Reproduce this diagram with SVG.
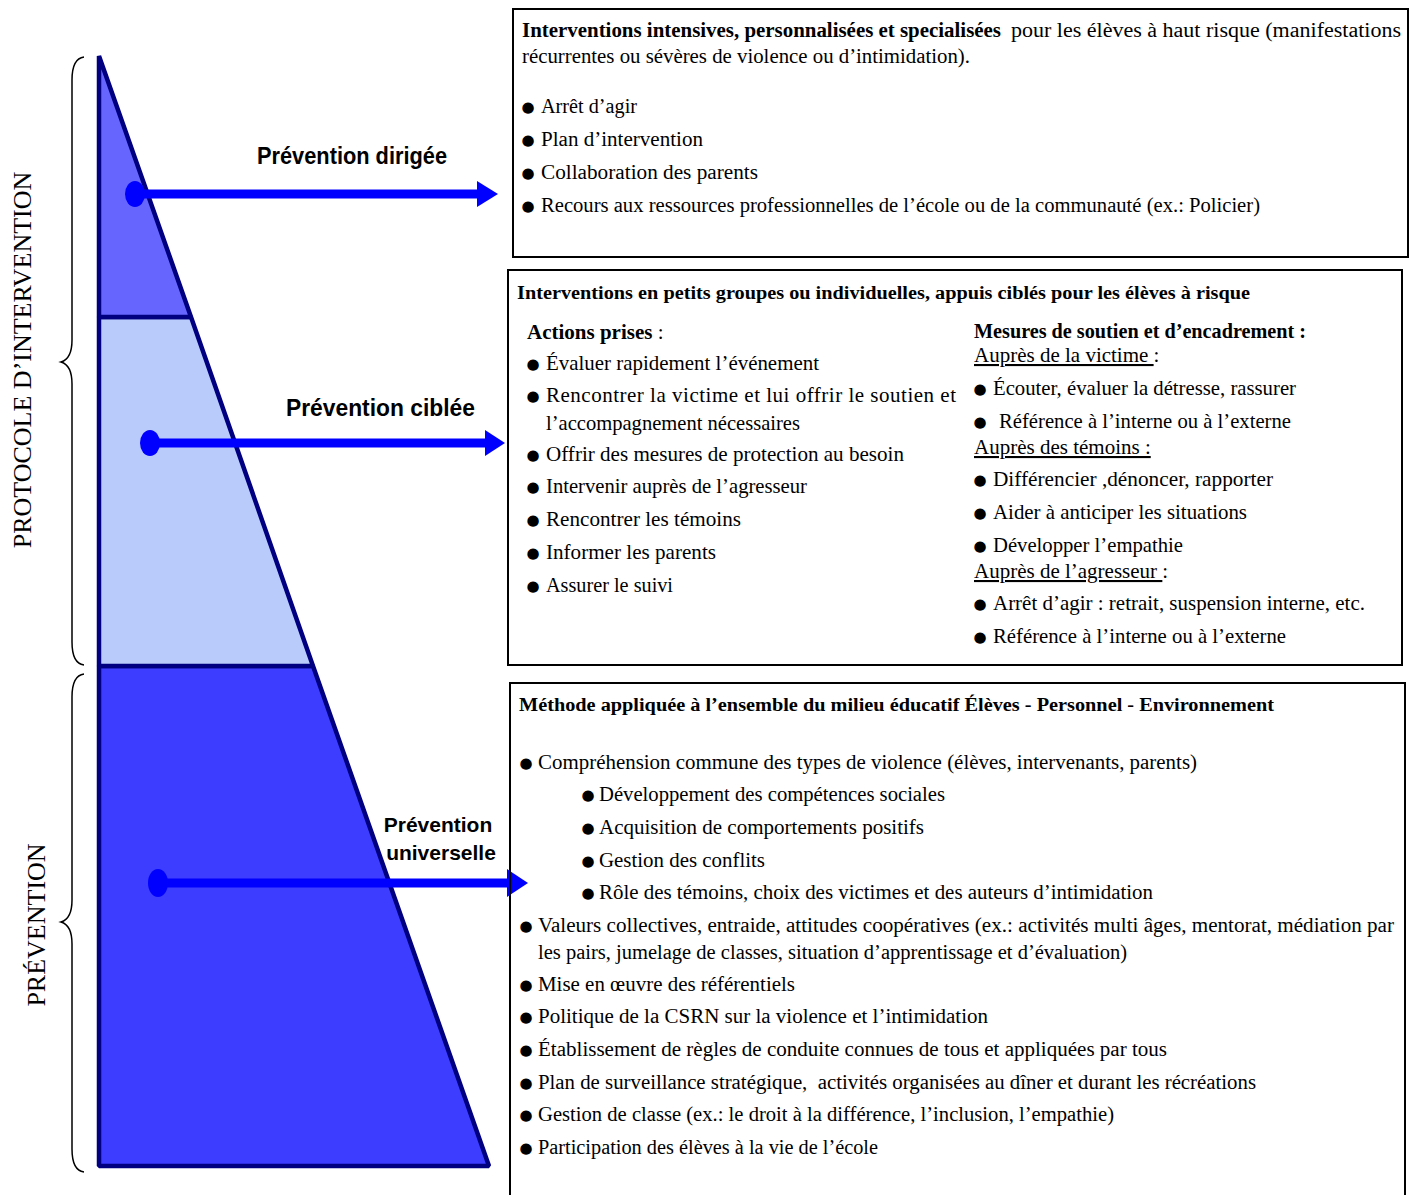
<svg xmlns="http://www.w3.org/2000/svg" width="1412" height="1195" viewBox="0 0 1412 1195">
<style>
.t{font-family:"Liberation Serif","Times New Roman",serif;font-size:20px;fill:#000}
.t2{font-family:"Liberation Serif","Times New Roman",serif;font-size:21px;fill:#000}
.b{font-weight:bold}
.h{font-family:"Liberation Serif","Times New Roman",serif;font-size:18px;font-weight:bold;fill:#000}
.bu{font-family:"DejaVu Sans",sans-serif;font-size:15px;fill:#000;text-anchor:middle}
.lab{font-family:"Liberation Sans",Arial,sans-serif;font-weight:bold;fill:#000;text-anchor:middle}
.side{font-family:"Liberation Serif","Times New Roman",serif;font-size:26px;fill:#000;text-anchor:middle}
.brace{fill:none;stroke:#000;stroke-width:1.5}
.lvl{stroke:#000080;stroke-width:4.5;stroke-linejoin:bevel}
.box{fill:none;stroke:#000;stroke-width:2}
.arr{stroke:#0000FF;stroke-width:9;fill:none}
.ah{fill:#0000FF}
</style>

<g id="braces">
<path class="brace" d="M84,57 C76,58 72,66 72,80 L72,340 C72,354 68,360 61,362 C68,364 72,370 72,384 L72,642 C72,656 76,664 84,665"/>
<path class="brace" d="M84,674 C76,675 72,683 72,697 L72,900 C72,914 68,920 61,922 C68,924 72,930 72,944 L72,1149 C72,1163 76,1171 84,1172"/>
<text class="side" transform="translate(31,360) rotate(-90)">PROTOCOLE D’INTERVENTION</text>
<text class="side" transform="translate(45,925) rotate(-90)">PRÉVENTION</text>
</g>

<g id="pyramid">
<g id="level-universelle"><polygon class="lvl" fill="#3D3DFF" stroke-width="3.5" points="99,666 313,666 489,1166 99,1166"/></g>
<g id="level-ciblee"><polygon class="lvl" fill="#B9CBFB" points="99,317 191,317 313,666 99,666"/></g>
<g id="level-dirigee"><polygon class="lvl" fill="#6666FF" points="99,56 191,317 99,317"/></g>
</g>

<g id="labels">
<text class="lab" x="352" y="164" font-size="23" textLength="190" lengthAdjust="spacingAndGlyphs">Prévention dirigée</text>
<text class="lab" x="380.5" y="416" font-size="23" textLength="189" lengthAdjust="spacingAndGlyphs">Prévention ciblée</text>
<text class="lab" x="438" y="832" font-size="21">Prévention</text>
<text class="lab" x="441" y="860" font-size="21">universelle</text>
</g>

<g id="connectors">
<g id="arrow-dirigee">
<ellipse class="ah" cx="135" cy="194" rx="10" ry="13"/>
<line class="arr" x1="135" y1="194" x2="479" y2="194"/>
<polygon class="ah" points="477,181 498,194 477,207"/>
</g>
<g id="arrow-ciblee">
<ellipse class="ah" cx="150" cy="443" rx="10" ry="13"/>
<line class="arr" x1="150" y1="443" x2="487" y2="443"/>
<polygon class="ah" points="485,430 505,443 485,456"/>
</g>
<g id="arrow-universelle">
<ellipse class="ah" cx="158" cy="883" rx="10" ry="14"/>
<line class="arr" x1="158" y1="883" x2="509" y2="883"/>
<polygon class="ah" points="507,869 528,883 507,897"/>
</g>
</g>

<g id="box-dirigee">
<rect class="box" x="513" y="9" width="895" height="248"/>
<text class="t b" x="522" y="37" textLength="479" lengthAdjust="spacingAndGlyphs">Interventions intensives, personnalisées et specialisées</text>
<text class="t" x="1011" y="37" textLength="390" lengthAdjust="spacingAndGlyphs">pour les élèves à haut risque (manifestations</text>
<text class="t" x="522" y="63" textLength="448" lengthAdjust="spacingAndGlyphs">récurrentes ou sévères de violence ou d’intimidation).</text>
<text class="bu" x="528" y="112">●</text>
<text class="bu" x="528" y="145">●</text>
<text class="bu" x="528" y="178">●</text>
<text class="bu" x="528" y="211">●</text>
<text class="t" x="541" y="113" textLength="96" lengthAdjust="spacingAndGlyphs">Arrêt d’agir</text>
<text class="t" x="541" y="146" textLength="162" lengthAdjust="spacingAndGlyphs">Plan d’intervention</text>
<text class="t" x="541" y="179" textLength="217" lengthAdjust="spacingAndGlyphs">Collaboration des parents</text>
<text class="t" x="541" y="212" textLength="719" lengthAdjust="spacingAndGlyphs">Recours aux ressources professionnelles de l’école ou de la communauté (ex.: Policier)</text>
</g>

<g id="box-ciblee">
<rect class="box" x="508" y="270" width="894" height="395" stroke-width="2.5"/>
<text class="h" x="517" y="299" textLength="733" lengthAdjust="spacingAndGlyphs">Interventions en petits groupes ou individuelles, appuis ciblés pour les élèves à risque</text>
<text class="t2" x="527" y="339"><tspan class="b">Actions prises</tspan> :</text>
<text class="bu" x="533" y="369">●</text>
<text class="bu" x="533" y="401">●</text>
<text class="bu" x="533" y="460">●</text>
<text class="bu" x="533" y="492">●</text>
<text class="bu" x="533" y="525">●</text>
<text class="bu" x="533" y="558">●</text>
<text class="bu" x="533" y="591">●</text>
<text class="t2" x="546" y="370" textLength="273" lengthAdjust="spacingAndGlyphs">Évaluer rapidement l’événement</text>
<text class="t2" x="546" y="402" textLength="410" lengthAdjust="spacing">Rencontrer la victime et lui offrir le soutien et</text>
<text class="t2" x="546" y="430" textLength="254" lengthAdjust="spacingAndGlyphs">l’accompagnement nécessaires</text>
<text class="t2" x="546" y="461" textLength="358" lengthAdjust="spacingAndGlyphs">Offrir des mesures de protection au besoin</text>
<text class="t2" x="546" y="493" textLength="261" lengthAdjust="spacingAndGlyphs">Intervenir auprès de l’agresseur</text>
<text class="t2" x="546" y="526" textLength="195" lengthAdjust="spacingAndGlyphs">Rencontrer les témoins</text>
<text class="t2" x="546" y="559" textLength="170" lengthAdjust="spacingAndGlyphs">Informer les parents</text>
<text class="t2" x="546" y="592" textLength="127" lengthAdjust="spacingAndGlyphs">Assurer le suivi</text>

<text class="t2 b" x="974" y="338" font-size="20" textLength="332" lengthAdjust="spacingAndGlyphs">Mesures de soutien et d’encadrement :</text>
<text class="t2" x="974" y="362"><tspan text-decoration="underline">Auprès de la victime </tspan>:</text>
<text class="bu" x="980" y="394">●</text>
<text class="bu" x="980" y="427">●</text>
<text class="t2" x="993" y="395" textLength="303" lengthAdjust="spacingAndGlyphs">Écouter, évaluer la détresse, rassurer</text>
<text class="t2" x="999" y="428" textLength="292" lengthAdjust="spacingAndGlyphs">Référence à l’interne ou à l’externe</text>
<text class="t2" x="974" y="454" text-decoration="underline">Auprès des témoins :</text>
<text class="bu" x="980" y="485">●</text>
<text class="bu" x="980" y="518">●</text>
<text class="bu" x="980" y="551">●</text>
<text class="t2" x="993" y="486" textLength="280" lengthAdjust="spacingAndGlyphs">Différencier ,dénoncer, rapporter</text>
<text class="t2" x="993" y="519" textLength="254" lengthAdjust="spacingAndGlyphs">Aider à anticiper les situations</text>
<text class="t2" x="993" y="552" textLength="190" lengthAdjust="spacingAndGlyphs">Développer l’empathie</text>
<text class="t2" x="974" y="578"><tspan text-decoration="underline">Auprès de l’agresseur </tspan>:</text>
<text class="bu" x="980" y="609">●</text>
<text class="bu" x="980" y="642">●</text>
<text class="t2" x="993" y="610" textLength="372" lengthAdjust="spacingAndGlyphs">Arrêt d’agir : retrait, suspension interne, etc.</text>
<text class="t2" x="993" y="643" textLength="293" lengthAdjust="spacingAndGlyphs">Référence à l’interne ou à l’externe</text>
</g>

<g id="box-universelle">
<path class="box" d="M510,1200 L510,683 L1405,683 L1405,1200"/>
<text class="h" x="519" y="711" textLength="755" lengthAdjust="spacingAndGlyphs">Méthode appliquée à l’ensemble du milieu éducatif Élèves - Personnel - Environnement</text>
<text class="bu" x="526" y="768">●</text>
<text class="bu" x="588" y="800">●</text>
<text class="bu" x="588" y="833">●</text>
<text class="bu" x="588" y="866">●</text>
<text class="bu" x="588" y="898">●</text>
<text class="bu" x="526" y="931">●</text>
<text class="bu" x="526" y="990">●</text>
<text class="bu" x="526" y="1022">●</text>
<text class="bu" x="526" y="1055">●</text>
<text class="bu" x="526" y="1088">●</text>
<text class="bu" x="526" y="1120">●</text>
<text class="bu" x="526" y="1153">●</text>
<text class="t" x="538" y="769" textLength="659" lengthAdjust="spacingAndGlyphs">Compréhension commune des types de violence (élèves, intervenants, parents)</text>
<text class="t" x="599" y="801" textLength="346" lengthAdjust="spacingAndGlyphs">Développement des compétences sociales</text>
<text class="t" x="599" y="834" textLength="325" lengthAdjust="spacingAndGlyphs">Acquisition de comportements positifs</text>
<text class="t" x="599" y="867" textLength="166" lengthAdjust="spacingAndGlyphs">Gestion des conflits</text>
<text class="t" x="599" y="899" textLength="554" lengthAdjust="spacingAndGlyphs">Rôle des témoins, choix des victimes et des auteurs d’intimidation</text>
<text class="t" x="538" y="932" textLength="856" lengthAdjust="spacingAndGlyphs">Valeurs collectives, entraide, attitudes coopératives (ex.: activités multi âges, mentorat, médiation par</text>
<text class="t" x="538" y="959" textLength="589" lengthAdjust="spacingAndGlyphs">les pairs, jumelage de classes, situation d’apprentissage et d’évaluation)</text>
<text class="t" x="538" y="991" textLength="257" lengthAdjust="spacingAndGlyphs">Mise en œuvre des référentiels</text>
<text class="t" x="538" y="1023" textLength="450" lengthAdjust="spacingAndGlyphs">Politique de la CSRN sur la violence et l’intimidation</text>
<text class="t" x="538" y="1056" textLength="629" lengthAdjust="spacingAndGlyphs">Établissement de règles de conduite connues de tous et appliquées par tous</text>
<text class="t" x="538" y="1089" textLength="718" lengthAdjust="spacingAndGlyphs">Plan de surveillance stratégique,&#160; activités organisées au dîner et durant les récréations</text>
<text class="t" x="538" y="1121" textLength="576" lengthAdjust="spacingAndGlyphs">Gestion de classe (ex.: le droit à la différence, l’inclusion, l’empathie)</text>
<text class="t" x="538" y="1154" textLength="340" lengthAdjust="spacingAndGlyphs">Participation des élèves à la vie de l’école</text>
</g>
</svg>
